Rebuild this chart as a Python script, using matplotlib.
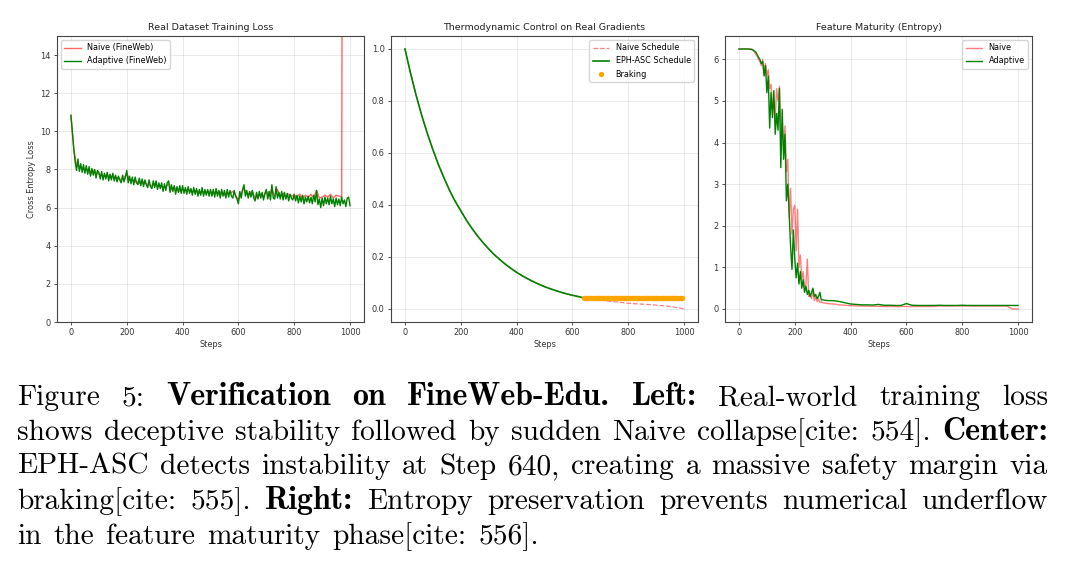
import numpy as np
import matplotlib
matplotlib.use("Agg")
import matplotlib.pyplot as plt

# ---- left panel: training loss ----
loss_steps = np.arange(0, 1001, 5)
adaptive_loss = [
    10.85, 10.0, 9.1, 8.4, 7.95, 8.55, 7.9, 8.3, 7.85, 8.25,
    7.8, 8.2, 7.75, 8.15, 7.65, 8.05, 7.7, 8.0, 7.55, 7.95,
    7.85, 7.5, 7.9, 7.45, 7.8, 7.5, 7.85, 7.4, 7.75, 7.45,
    7.8, 7.4, 7.7, 7.35, 7.65, 7.45, 7.3, 7.7, 7.35, 7.6,
    7.95, 7.3, 7.65, 7.25, 7.6, 7.2, 7.6, 7.3, 7.2, 7.55,
    7.15, 7.5, 7.1, 7.45, 7.2, 7.05, 7.45, 7.1, 7.0, 7.4,
    7.05, 7.4, 6.95, 7.3, 7.0, 7.3, 6.85, 7.25, 6.9, 7.3,
    7.4, 6.8, 7.2, 6.85, 7.15, 6.7, 7.1, 6.8, 7.15, 6.75,
    7.15, 6.75, 7.05, 6.7, 7.1, 6.75, 7.0, 6.65, 7.05, 6.7,
    7.0, 6.6, 6.95, 6.65, 7.05, 6.6, 6.95, 6.65, 6.95, 6.6,
    6.95, 6.6, 6.95, 6.55, 7.0, 6.6, 6.9, 6.5, 6.95, 6.6,
    6.9, 6.5, 6.95, 6.55, 6.9, 6.6, 6.5, 6.9, 6.6, 6.45,
    6.2, 6.85, 6.5, 6.95, 7.2, 6.6, 6.9, 6.5, 6.85, 6.55,
    6.9, 6.5, 6.35, 6.8, 6.45, 6.85, 6.5, 6.8, 6.4, 6.75,
    6.95, 6.45, 6.85, 6.4, 7.2, 6.5, 6.45, 7.1, 6.5, 6.8,
    6.45, 6.85, 6.4, 6.8, 6.45, 6.75, 6.35, 6.7, 6.5, 6.4,
    6.7, 6.35, 6.65, 6.25, 6.6, 6.3, 6.65, 6.2, 6.55, 6.3,
    6.6, 6.25, 6.55, 6.2, 6.65, 6.3, 6.9, 6.15, 6.45, 6.0,
    6.5, 6.1, 6.55, 6.2, 6.5, 6.15, 6.6, 6.2, 6.45, 6.05,
    6.5, 6.15, 6.45, 6.1, 6.55, 6.2, 6.4, 6.05, 6.5, 6.55,
    6.1,
]
naive_loss_steps = np.arange(0, 971, 10)
naive_loss = [
    10.8, 9.1, 8.2, 8.15, 8.1, 7.95, 8.0, 7.75, 7.95, 7.85,
    7.75, 7.7, 7.65, 7.75, 7.55, 7.7, 7.55, 7.55, 7.45, 7.55,
    7.8, 7.45, 7.45, 7.35, 7.35, 7.25, 7.35, 7.25, 7.2, 7.15,
    7.25, 7.1, 7.15, 7.05, 7.1, 7.25, 6.95, 7.05, 6.95, 6.85,
    6.95, 6.9, 6.95, 6.85, 6.85, 6.9, 6.75, 6.85, 6.8, 6.85,
    6.8, 6.8, 6.75, 6.85, 6.75, 6.65, 6.8, 6.75, 6.85, 6.65,
    6.4, 6.75, 7.0, 6.7, 6.75, 6.85, 6.5, 6.6, 6.7, 6.55,
    6.85, 6.6, 7.0, 6.55, 6.95, 6.6, 6.75, 6.55, 6.7, 6.6,
    6.65, 6.55, 6.7, 6.5, 6.65, 6.55, 6.7, 6.5, 6.9, 6.5,
    6.55, 6.65, 6.55, 6.7, 6.5, 6.65, 6.6, 6.55,
]
collapse_step = 978
collapse_value = 60.0

# ---- center panel: schedules ----
sched_steps = np.arange(0, 641, 20)
eph_sched = [
    1.000, 0.907, 0.822, 0.745, 0.676, 0.613, 0.555, 0.504, 0.456, 0.414,
    0.378, 0.342, 0.310, 0.281, 0.255, 0.231, 0.209, 0.190, 0.172, 0.156,
    0.141, 0.128, 0.116, 0.105, 0.095, 0.086, 0.078, 0.071, 0.064, 0.058,
    0.053, 0.048, 0.043,
]
naive_tail_steps = [640, 660, 700, 760, 800, 860, 900, 940, 980, 1000]
naive_tail = [0.043, 0.039, 0.034, 0.027, 0.022, 0.018, 0.015, 0.011, 0.005, 0.0]
braking_steps = np.arange(640, 996, 4)
braking_level = 0.042

# ---- right panel: entropy ----
ent_steps = np.concatenate([np.arange(0, 300, 5), np.arange(300, 1001, 20)])
adaptive_ent = [
    6.25, 6.25, 6.25, 6.25, 6.25, 6.25, 6.25, 6.25, 6.24, 6.24,
    6.23, 6.20, 6.18, 6.12, 6.05, 6.0, 5.9, 5.95, 5.6, 5.85,
    5.2, 5.6, 4.35, 5.2, 4.6, 5.25, 4.2, 4.7, 4.3, 5.3,
    3.4, 4.8, 3.6, 4.2, 2.6, 3.0, 2.3, 1.5, 0.95, 1.9,
    1.2, 0.75, 1.1, 0.6, 0.9, 0.5, 0.7, 0.4, 0.55, 0.35,
    0.45, 0.3, 0.4, 0.5, 0.3, 0.35, 0.25, 0.3, 0.4, 0.22,
    0.22, 0.2, 0.2, 0.18, 0.15, 0.12, 0.11, 0.1, 0.1, 0.095,
    0.11, 0.09, 0.09, 0.085, 0.085, 0.13, 0.09, 0.085, 0.085, 0.085,
    0.085, 0.09, 0.085, 0.085, 0.085, 0.09, 0.085, 0.085, 0.085, 0.085,
    0.085, 0.085, 0.085, 0.085, 0.085, 0.085,
]
naive_ent = [
    6.25, 6.25, 6.25, 6.25, 6.25, 6.25, 6.25, 6.25, 6.25, 6.25,
    6.22, 6.18, 6.12, 6.08, 6.0, 5.95, 5.85, 6.0, 5.7, 5.9,
    5.6, 5.75, 5.3, 5.4, 4.8, 5.0, 4.6, 5.3, 5.0, 5.35,
    4.2, 4.45, 3.8, 4.4, 3.3, 3.6, 2.2, 2.9, 1.8, 2.4,
    2.5, 1.4, 2.4, 1.0, 1.3, 0.7, 0.9, 0.5, 0.6, 1.2,
    0.3, 0.35, 0.25, 0.45, 0.2, 0.3, 0.18, 0.25, 0.16, 0.17,
    0.15, 0.13, 0.12, 0.1, 0.09, 0.08, 0.075, 0.07, 0.07, 0.065,
    0.065, 0.06, 0.06, 0.06, 0.06, 0.06, 0.06, 0.06, 0.06, 0.06,
    0.065, 0.07, 0.07, 0.07, 0.075, 0.07, 0.075, 0.07, 0.07, 0.07,
    0.07, 0.07, 0.07, 0.07, 0.0, 0.0,
]

caption_lines = [
    [("Figure", 0), ("5:", 0), ("Verification", 1), ("on", 1), ("FineWeb-Edu.", 1),
     ("Left:", 1), ("Real-world", 0), ("training", 0), ("loss", 0)],
    [("shows", 0), ("deceptive", 0), ("stability", 0), ("followed", 0), ("by", 0),
     ("sudden", 0), ("Naive", 0), ("collapse[cite:", 0), ("554].", 0), ("Center:", 1)],
    [("EPH-ASC", 0), ("detects", 0), ("instability", 0), ("at", 0), ("Step", 0),
     ("640,", 0), ("creating", 0), ("a", 0), ("massive", 0), ("safety", 0),
     ("margin", 0), ("via", 0)],
    [("braking[cite:", 0), ("555].", 0), ("Right:", 1), ("Entropy", 0),
     ("preservation", 0), ("prevents", 0), ("numerical", 0), ("underflow", 0)],
    [("in", 0), ("the", 0), ("feature", 0), ("maturity", 0), ("phase[cite:", 0),
     ("556].", 0)],
]

W, H = 1067, 572
fig = plt.figure(figsize=(W / 100, H / 100), dpi=100)
fs = 5.9
tc = "#333333"

def px_axes(x0, x1, y0=36, y1=322):
    return fig.add_axes([x0 / W, 1 - y1 / H, (x1 - x0) / W, (y1 - y0) / H])

def style(ax, title):
    ax.set_title(title, fontsize=6.8, color="#222222", pad=4)
    ax.set_xlabel("Steps", fontsize=fs, color=tc, labelpad=2)
    ax.tick_params(labelsize=fs, colors=tc, length=2.5, width=0.6, pad=2)
    ax.grid(True, alpha=0.3, linewidth=0.6)
    for s in ax.spines.values():
        s.set_color("#444444")
        s.set_linewidth(0.8)

ax1 = px_axes(57, 364)
ax2 = px_axes(391, 698)
ax3 = px_axes(725, 1032)

ax1.plot(list(naive_loss_steps) + [collapse_step], naive_loss + [collapse_value],
         color="red", alpha=0.6, lw=1.0, label="Naive (FineWeb)")
ax1.plot(loss_steps, adaptive_loss, color="green", lw=1.0, label="Adaptive (FineWeb)")
ax1.set_ylim(0, 15)
ax1.set_xlim(-50, 1050)
ax1.set_ylabel("Cross Entropy Loss", fontsize=fs, color=tc, labelpad=3)
style(ax1, "Real Dataset Training Loss")
ax1.legend(loc="upper left", fontsize=fs, framealpha=0.8)

ax2.plot(list(sched_steps) + naive_tail_steps[1:], eph_sched + naive_tail[1:],
         "r--", alpha=0.5, lw=0.9, label="Naive Schedule")
ax2.plot(list(sched_steps) + [1000], eph_sched + [braking_level],
         color="green", lw=1.2, label="EPH-ASC Schedule")
ax2.scatter(braking_steps, [braking_level] * len(braking_steps), color="orange",
            s=8, zorder=3, label="Braking")
style(ax2, "Thermodynamic Control on Real Gradients")
ax2.legend(loc="upper right", fontsize=fs, framealpha=0.8)

ax3.plot(ent_steps, naive_ent, color="red", alpha=0.5, lw=1.0, label="Naive")
ax3.plot(ent_steps, adaptive_ent, color="green", lw=1.0, label="Adaptive")
style(ax3, "Feature Maturity (Entropy)")
ax3.legend(loc="upper right", fontsize=fs, framealpha=0.8)

# caption, justified word by word
cap_fs = 21.2
bold_fs = 23
left, right = 17, 1048
baselines = [405, 440, 474, 509, 544]
fig.canvas.draw()
r = fig.canvas.get_renderer()
for i, words in enumerate(caption_lines):
    y = 1 - baselines[i] / H
    texts = [fig.text(0, y, w, fontsize=bold_fs if b else cap_fs, va="baseline",
                      family="cmb10" if b else "cmr10") for w, b in words]
    widths = [t.get_window_extent(r).width for t in texts]
    if i < len(caption_lines) - 1:
        gap = (right - left - sum(widths)) / (len(words) - 1)
    else:
        gap = 12
    x = left
    for t, w in zip(texts, widths):
        t.set_x(x / W)
        x += w + gap

fig.savefig("out.png", dpi=100)
